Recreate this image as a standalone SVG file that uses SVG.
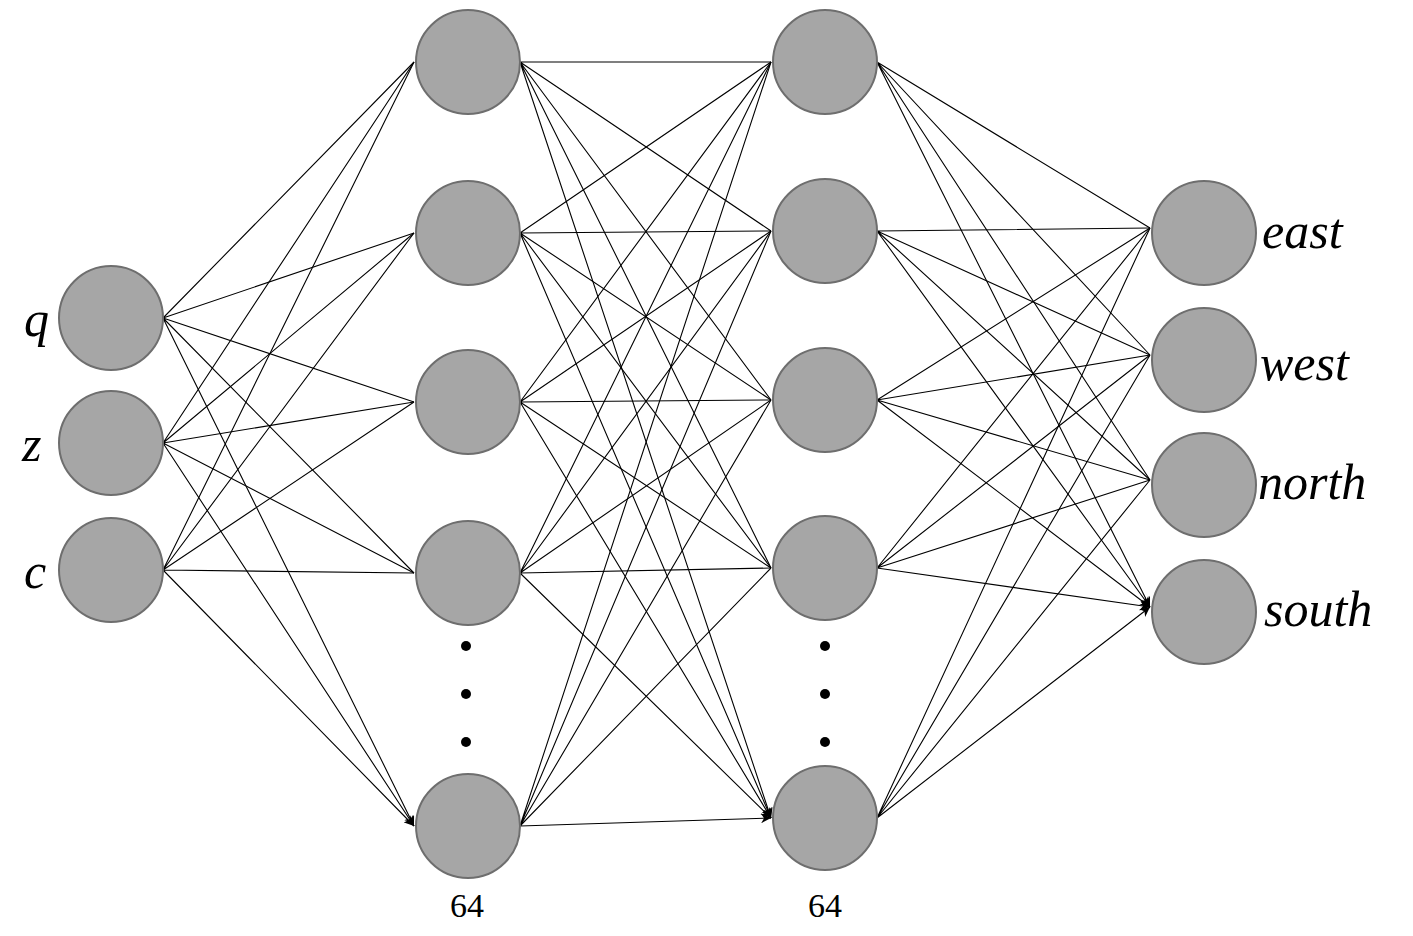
<svg xmlns="http://www.w3.org/2000/svg" width="1413" height="936" viewBox="0 0 1413 936">
<style>
.n{fill:#a6a6a6;stroke:#6e6e6e;stroke-width:2}
.e{stroke:#000;stroke-width:1.1;fill:none;marker-end:url(#a)}
.l{font-family:"Liberation Serif",serif;font-style:italic;font-size:50px;fill:#000}
.c{font-family:"Liberation Serif",serif;font-size:34px;fill:#000;text-anchor:middle}
</style>
<defs><marker id="a" viewBox="0 0 10 10" refX="10" refY="5" markerWidth="12" markerHeight="10" markerUnits="userSpaceOnUse" orient="auto"><path d="M0,0 L10,5 L0,10 L3,5 z" fill="#000"/></marker></defs>
<rect width="1413" height="936" fill="#fff"/>
<g id="connectors">
<!-- input to h1 -->
<path class="e" d="M163,318L414,62M163,318L414,233M163,318L414,402M163,318L414,573M163,318L414,826"/>
<path class="e" d="M163,443L414,62M163,443L414,233M163,443L414,402M163,443L414,573M163,443L414,826"/>
<path class="e" d="M163,570L414,62M163,570L414,233M163,570L414,402M163,570L414,573M163,570L414,826"/>
<!-- h1 to h2 -->
<path class="e" d="M520,62L771,62M520,62L771,231M520,62L771,400M520,62L771,568M520,62L771,818"/>
<path class="e" d="M520,233L771,62M520,233L771,231M520,233L771,400M520,233L771,568M520,233L771,818"/>
<path class="e" d="M520,402L771,62M520,402L771,231M520,402L771,400M520,402L771,568M520,402L771,818"/>
<path class="e" d="M520,573L771,62M520,573L771,231M520,573L771,400M520,573L771,568M520,573L771,818"/>
<path class="e" d="M520,826L771,62M520,826L771,231M520,826L771,400M520,826L771,568M520,826L771,818"/>
<!-- h2 to out -->
<path class="e" d="M877,62L1150,228M877,62L1150,355M877,62L1150,480M877,62L1150,607"/>
<path class="e" d="M877,231L1150,228M877,231L1150,355M877,231L1150,480M877,231L1150,607"/>
<path class="e" d="M877,400L1150,228M877,400L1150,355M877,400L1150,480M877,400L1150,607"/>
<path class="e" d="M877,568L1150,228M877,568L1150,355M877,568L1150,480M877,568L1150,607"/>
<path class="e" d="M877,818L1150,228M877,818L1150,355M877,818L1150,480M877,818L1150,607"/>
</g>
<g id="in-q"><circle class="n" cx="111" cy="318" r="52"/><text class="l" x="24" y="336">q</text></g>
<g id="in-z"><circle class="n" cx="111" cy="443" r="52"/><text class="l" x="22" y="461">z</text></g>
<g id="in-c"><circle class="n" cx="111" cy="570" r="52"/><text class="l" x="24" y="588">c</text></g>
<g id="h1-1"><circle class="n" cx="468" cy="62" r="52"/></g>
<g id="h1-2"><circle class="n" cx="468" cy="233" r="52"/></g>
<g id="h1-3"><circle class="n" cx="468" cy="402" r="52"/></g>
<g id="h1-4"><circle class="n" cx="468" cy="573" r="52"/></g>
<g id="h1-5"><circle class="n" cx="468" cy="826" r="52"/></g>
<g id="h2-1"><circle class="n" cx="825" cy="62" r="52"/></g>
<g id="h2-2"><circle class="n" cx="825" cy="231" r="52"/></g>
<g id="h2-3"><circle class="n" cx="825" cy="400" r="52"/></g>
<g id="h2-4"><circle class="n" cx="825" cy="568" r="52"/></g>
<g id="h2-5"><circle class="n" cx="825" cy="818" r="52"/></g>
<g id="out-east"><circle class="n" cx="1204" cy="233" r="52"/><text class="l" x="1262" y="248">east</text></g>
<g id="out-west"><circle class="n" cx="1204" cy="360" r="52"/><text class="l" x="1260" y="380">west</text></g>
<g id="out-north"><circle class="n" cx="1204" cy="485" r="52"/><text class="l" x="1258" y="499">north</text></g>
<g id="out-south"><circle class="n" cx="1204" cy="612" r="52"/><text class="l" x="1264" y="626">south</text></g>
<g id="dots">
<circle cx="466" cy="646" r="5"/><circle cx="466" cy="694" r="5"/><circle cx="466" cy="742" r="5"/>
<circle cx="825" cy="646" r="5"/><circle cx="825" cy="694" r="5"/><circle cx="825" cy="742" r="5"/>
</g>
<text class="c" x="467" y="917">64</text>
<text class="c" x="825" y="917">64</text>
</svg>
